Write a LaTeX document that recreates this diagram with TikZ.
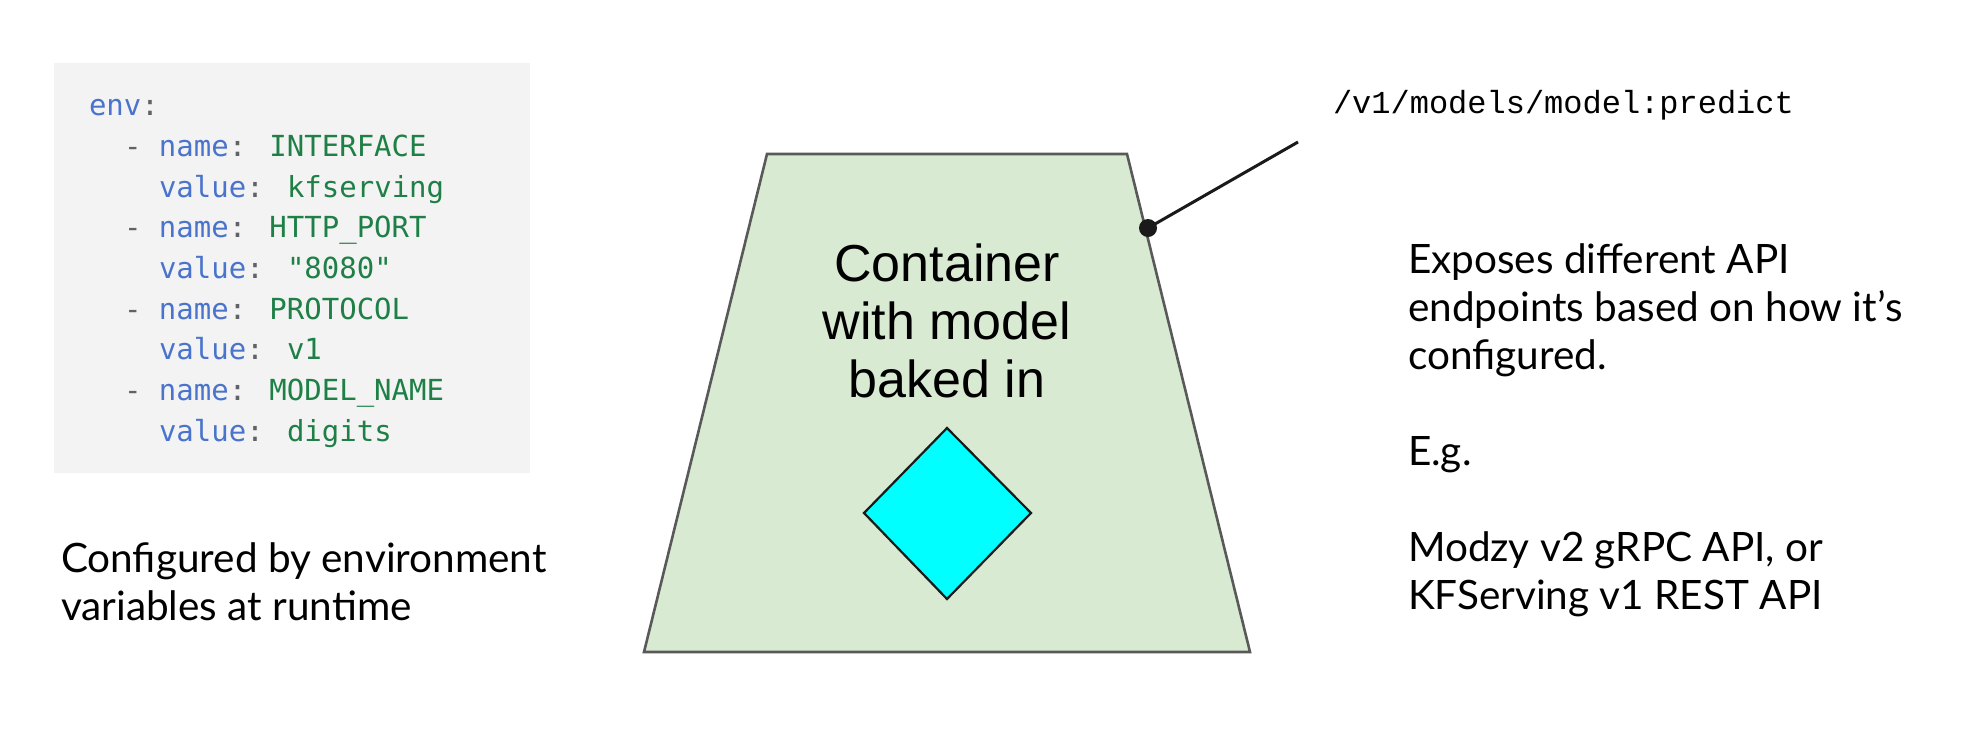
\documentclass[tikz,border=0pt]{standalone}
\usepackage{fontspec}
\setmainfont{Lato}
\newfontfamily\boxfont{Liberation Sans}
\newfontfamily\yamlfont{DejaVu Sans Mono}
\newfontfamily\urlfont{Liberation Mono}
\definecolor{cd9ead3}{RGB}{217,234,211}
\definecolor{c595959}{RGB}{89,89,89}
\definecolor{cf3f3f3}{RGB}{243,243,243}
\definecolor{c1a1a1a}{RGB}{26,26,26}
\definecolor{c00ffff}{RGB}{0,255,255}
\definecolor{c4a74cc}{RGB}{74,116,204}
\definecolor{c1e8046}{RGB}{30,128,70}
\definecolor{c5f6368}{RGB}{95,99,104}
\newcommand{\ykey}[1]{\textcolor{c4a74cc}{#1}\textcolor{c5f6368}{:}}
\newcommand{\yval}[1]{\textcolor{c1e8046}{#1}}
\newcommand{\ydash}{\textcolor{c5f6368}{-}}

\begin{document}
\begin{tikzpicture}[y=1pt, x=1pt, yscale=-1, inner sep=0pt, outer sep=0pt]
  \useasboundingbox (0,0) rectangle (1964,750);
  % env block
  \path[fill=cf3f3f3] (54,63) rectangle (530,473);
  \begin{scope}[font=\yamlfont\fontsize{29}{40}\selectfont]
    \path (89,115) node[anchor=base west] (textenv) {\ykey{env}};
    \path (124,156) node[anchor=base west] (textname1) {\ydash{} \ykey{name} \yval{INTERFACE}};
    \path (159,197) node[anchor=base west] (textvalue1) {\ykey{value} \yval{kfserving}};
    \path (124,237) node[anchor=base west] (textname2) {\ydash{} \ykey{name} \yval{HTTP\_PORT}};
    \path (159,278) node[anchor=base west] (textvalue2) {\ykey{value} \yval{"8080"}};
    \path (124,319) node[anchor=base west] (textname3) {\ydash{} \ykey{name} \yval{PROTOCOL}};
    \path (159,359) node[anchor=base west] (textvalue3) {\ykey{value} \yval{v1}};
    \path (124,400) node[anchor=base west] (textname4) {\ydash{} \ykey{name} \yval{MODEL\_NAME}};
    \path (159,441) node[anchor=base west] (textvalue4) {\ykey{value} \yval{digits}};
  \end{scope}
  \path (61,620) node[anchor=base west, align=left, font=\fontsize{40.5}{48}\selectfont]
    (textconfigured) {Configured by environment\\variables at runtime};

  % container
  \path[draw=c595959, fill=cd9ead3, line width=2.6pt]
    (767,154) -- (1127,154) -- (1250,652) -- (644,652) -- cycle;
  \path (947,397) node[anchor=base, align=center, font=\boxfont\fontsize{52}{58}\selectfont]
    (textcontainer) {Container\\with model\\baked in};
  \path[draw=c1a1a1a, fill=c00ffff, line width=2.2pt]
    (947,428) -- (1031,513) -- (947,599) -- (864,513) -- cycle;

  % endpoint
  \path (1333,113) node[anchor=base west, font=\urlfont\fontsize{32}{38}\selectfont]
    (textendpoint) {/v1/models/model:predict};
  \node[circle, fill=c1a1a1a, minimum size=18pt] (dot) at (1148,228) {};
  \coordinate (pinend) at (1298,142);
  \path[draw=c1a1a1a, line width=3pt] (dot.center) -- (pinend);

  \path (1408,609) node[anchor=base west, align=left, font=\fontsize{40.5}{48}\selectfont]
    (textexposes) {Exposes different API\\endpoints based on how it’s\\configured.\\[48pt]E.g.\\[48pt]Modzy v2 gRPC API, or\\KFServing v1 REST API};
\end{tikzpicture}
\end{document}
